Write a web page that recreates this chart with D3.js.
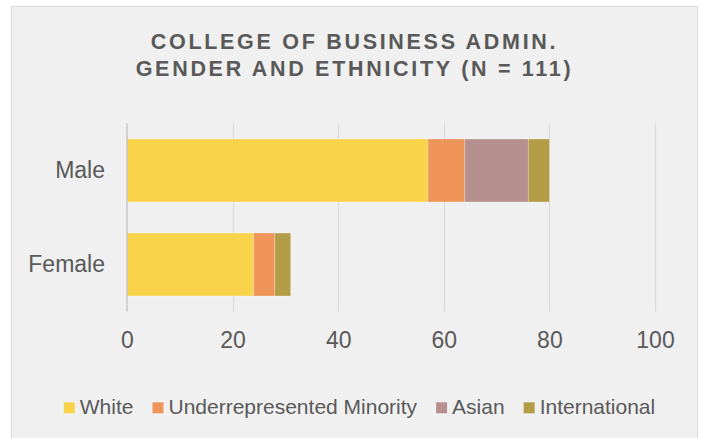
<!DOCTYPE html>
<html>
<head>
<meta charset="utf-8">
<script src="https://cdn.jsdelivr.net/npm/d3@7"></script>
<style>
  html, body { margin: 0; padding: 0; background: #ffffff; }
  svg { display: block; font-family: "Liberation Sans", Arial, sans-serif; }
</style>
</head>
<body>
<svg id="chart" width="702" height="438"></svg>
<script>
const categories = ["Male", "Female"];
const seriesNames = ["White", "Underrepresented Minority", "Asian", "International"];
const white = [57, 24];
const urm = [7, 4];
const asian = [12, 0];
const international = [4, 3];
const xTicks = [0, 20, 40, 60, 80, 100];
const titleLines = ["COLLEGE OF BUSINESS ADMIN.", "GENDER AND ETHNICITY (N = 111)"];
const colors = ["#F9D44B", "#EF955A", "#B5908E", "#B39C46"];

const svg = d3.select("#chart");

// frame
svg.append("rect")
  .attr("x", 11.5).attr("y", 6.5)
  .attr("width", 686).attr("height", 445)
  .attr("fill", "#f0f0f0")
  .attr("stroke", "#d9d9d9").attr("stroke-width", 1);

// title
const title = svg.append("text")
  .attr("text-anchor", "middle")
  .attr("fill", "#595959")
  .attr("font-weight", "bold")
  .attr("font-size", "21.5px")
  .attr("letter-spacing", "2.7px");
titleLines.forEach((t, i) => {
  title.append("tspan").attr("x", 354.5).attr("y", 49 + i * 27).text(t);
});

const x = d3.scaleLinear().domain([0, 100]).range([127, 655]);
const y = d3.scaleBand().domain(categories).range([123.5, 311.5])
  .paddingInner(0.33).paddingOuter(0.165);

// gridlines
svg.append("g").selectAll("line")
  .data(xTicks.filter(d => d > 0))
  .join("line")
  .attr("x1", d => Math.round(x(d)) + 0.5).attr("x2", d => Math.round(x(d)) + 0.5)
  .attr("y1", 123.5).attr("y2", 311.5)
  .attr("stroke", "#d9d9d9").attr("stroke-width", 1.2);

// stacked data
const rows = categories.map((c, i) => ({
  cat: c,
  "White": white[i],
  "Underrepresented Minority": urm[i],
  "Asian": asian[i],
  "International": international[i]
}));
const stacked = d3.stack().keys(seriesNames)(rows);

svg.append("g").selectAll("g")
  .data(stacked)
  .join("g")
  .attr("fill", (d, i) => colors[i])
  .selectAll("rect")
  .data(d => d.filter(s => s[1] - s[0] > 0))
  .join("rect")
  .attr("x", d => x(d[0]))
  .attr("width", d => x(d[1]) - x(d[0]))
  .attr("y", d => y(d.data.cat))
  .attr("height", y.bandwidth())
  .attr("stroke", "rgba(255,255,255,0.35)")
  .attr("stroke-width", 0.75);

// vertical axis line
svg.append("line")
  .attr("x1", 127).attr("x2", 127)
  .attr("y1", 123.5).attr("y2", 311.5)
  .attr("stroke", "#bfbfbf").attr("stroke-width", 1.3);

// x tick labels
const xAxis = d3.axisBottom(x).tickValues(xTicks).tickSize(0).tickPadding(0);
const gx = svg.append("g").attr("transform", "translate(0,0)").call(xAxis);
gx.select(".domain").remove();
gx.selectAll("text")
  .attr("y", 348).attr("dy", null)
  .attr("fill", "#595959")
  .attr("font-size", "23px")
  .attr("font-family", "Liberation Sans, Arial, sans-serif");

// category labels
const yAxis = d3.axisLeft(y).tickSize(0).tickPadding(0);
const gy = svg.append("g").call(yAxis);
gy.select(".domain").remove();
gy.selectAll(".tick text")
  .attr("x", 105).attr("dy", null).attr("y", 7.8)
  .attr("text-anchor", "end")
  .attr("fill", "#595959")
  .attr("font-size", "23px")
  .attr("font-family", "Liberation Sans, Arial, sans-serif");

// legend
const legend = svg.append("g");
let cx = 0;
seriesNames.forEach((name, i) => {
  const g = legend.append("g").attr("transform", `translate(${cx},0)`);
  g.append("rect").attr("x", 0).attr("y", 402.3).attr("width", 11).attr("height", 11)
    .attr("fill", colors[i]);
  const t = g.append("text").attr("x", 16).attr("y", 413.5)
    .attr("fill", "#595959").attr("font-size", "21px").text(name);
  const w = t.node().getComputedTextLength();
  cx += 16 + w + 19;
});
const totalW = cx - 19;
legend.attr("transform", `translate(${359.5 - totalW / 2},0)`);
</script>
</body>
</html>
